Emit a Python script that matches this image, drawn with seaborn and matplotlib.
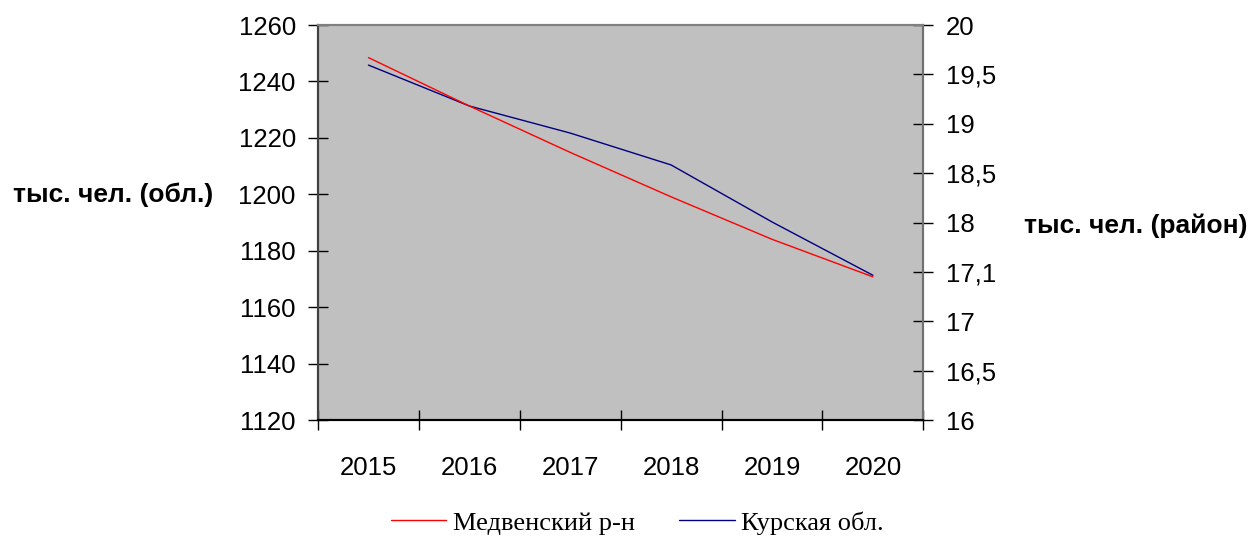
import matplotlib
matplotlib.use('Agg')
import matplotlib.pyplot as plt
import matplotlib.ticker as mticker
from matplotlib.lines import Line2D
import pandas as pd
import seaborn as sns

# === Datos ===
anios = [2015, 2016, 2017, 2018, 2019, 2020]
kursk_obl = [1245.8, 1231.3, 1221.7, 1210.4, 1190.2, 1171.3]   # тыс. чел. (обл.)
medvensky = [19.67, 19.18, 18.71, 18.26, 17.83, 17.45]         # тыс. чел. (район)
ticks_izq = [1120, 1140, 1160, 1180, 1200, 1220, 1240, 1260]
ticks_der = [16, 16.5, 17, 17.5, 18, 18.5, 19, 19.5, 20]
etiquetas_der = ['16', '16,5', '17', '17,1', '18', '18,5', '19', '19,5', '20']

df = pd.DataFrame({'anio': anios, 'obl': kursk_obl, 'rayon': medvensky})

sns.set_style('white')
plt.rcParams['font.family'] = ['Liberation Sans', 'DejaVu Sans']
plt.rcParams['text.color'] = 'black'
plt.rcParams['xtick.color'] = 'black'
plt.rcParams['ytick.color'] = 'black'

fig = plt.figure(figsize=(12.52, 5.38), dpi=100)
ax = fig.add_axes([0.254, 0.2193, 0.4835, 0.7342])
ax.set_facecolor('#C0C0C0')
ax2 = ax.twinx()

sns.lineplot(data=df, x='anio', y='obl', ax=ax, color='#000080', linewidth=1.0)
sns.lineplot(data=df, x='anio', y='rayon', ax=ax2, color='#FF0000', linewidth=1.0)

# === Ejes ===
ax.set_xlim(2014.5, 2020.5)
ax.set_ylim(1120, 1260)
ax2.set_ylim(16, 20)
ax.set_xlabel('')
ax.set_ylabel('')
ax2.set_ylabel('')

ax.xaxis.set_major_locator(mticker.FixedLocator([a - 0.5 for a in anios] + [anios[-1] + 0.5]))
ax.xaxis.set_major_formatter(mticker.NullFormatter())
ax.xaxis.set_minor_locator(mticker.FixedLocator(anios))
ax.xaxis.set_minor_formatter(mticker.FixedFormatter([str(a) for a in anios]))
ax.tick_params(axis='x', which='major', bottom=True, direction='inout', length=14, width=1, color='black')
ax.tick_params(axis='x', which='minor', bottom=True, length=0, pad=26, labelsize=18.5, labelcolor='black')

ax.set_yticks(ticks_izq)
ax.set_yticklabels([str(t) for t in ticks_izq])
ax.tick_params(axis='y', left=True, direction='inout', length=14, width=1, pad=9, labelsize=18.5,
               color='black', labelcolor='black')

ax2.yaxis.set_major_locator(mticker.FixedLocator(ticks_der))
ax2.yaxis.set_major_formatter(mticker.FixedFormatter(etiquetas_der))
ax2.tick_params(axis='y', right=True, direction='inout', length=14, width=1, pad=9, labelsize=18.5,
                color='black', labelcolor='black')

for a in (ax, ax2):
    a.spines['top'].set_color('#808080')
    a.spines['right'].set_color('#707070')
    a.spines['left'].set_color('#404040')
    a.spines['bottom'].set_color('black')
    for s in a.spines.values():
        s.set_linewidth(1.5)

fig.text(0.010, 0.638, 'тыс. чел. (обл.)', fontsize=19, fontweight='bold', va='center', ha='left')
fig.text(0.818, 0.580, 'тыс. чел. (район)', fontsize=19, fontweight='bold', va='center', ha='left')

# === Leyenda ===
handles = [Line2D([], [], color='#FF0000', linewidth=1.0),
           Line2D([], [], color='#000080', linewidth=1.0)]
fig.legend(handles, ['Медвенский р-н', 'Курская обл.'], loc='center',
           bbox_to_anchor=(0.509, 0.028), ncol=2, frameon=False,
           prop={'family': ['Liberation Serif', 'DejaVu Serif'], 'size': 19},
           handlelength=2.1, handletextpad=0.25, columnspacing=1.7)

fig.savefig('out.png', dpi=100)
